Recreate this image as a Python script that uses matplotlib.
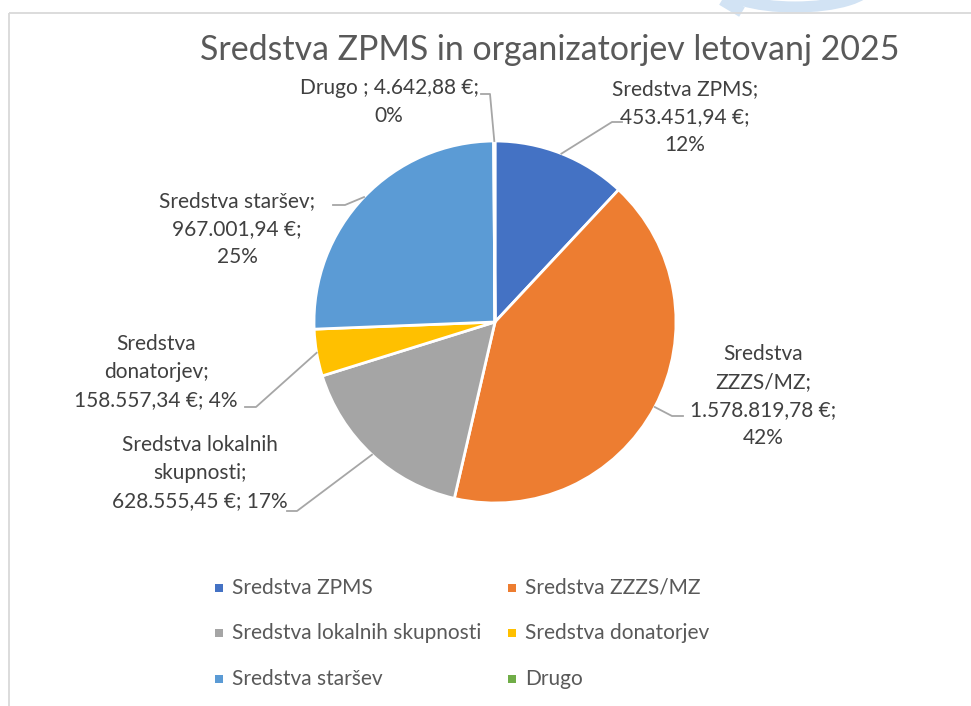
import matplotlib

matplotlib.use("Agg")
import matplotlib.pyplot as plt
import numpy as np
from matplotlib.patches import Ellipse, Rectangle

plt.rcParams["font.family"] = ["Lato", "DejaVu Sans"]

# podatki
categories = [
    "Sredstva ZPMS",
    "Sredstva ZZZS/MZ",
    "Sredstva lokalnih skupnosti",
    "Sredstva donatorjev",
    "Sredstva staršev",
    "Drugo",
]
values = [453451.94, 1578819.78, 628555.45, 158557.34, 967001.94, 4642.88]
colors = ["#4472C4", "#ED7D31", "#A5A5A5", "#FFC000", "#5B9BD5", "#70AD47"]
title = "Sredstva ZPMS in organizatorjev letovanj 2025"

# postavitev oznak (piksli, y navzdol): ime z prelomi, center besedila, koleno in konec črte
label_names = [
    "Sredstva ZPMS;\n",
    "Sredstva\nZZZS/MZ;\n",
    "Sredstva lokalnih\nskupnosti;\n",
    "Sredstva\ndonatorjev;\n",
    "Sredstva staršev;\n",
    "Drugo ; ",
]
pct_sep = ["\n", "\n", " ", " ", "\n", "\n"]
label_xy = [(685, 117), (763, 396), (200, 473), (156, 372), (237, 229), (389, 102)]
elbows = [(612, 122), (672, 416), (297, 511), (256, 407), (345, 205), (490, 94)]
ends = [(622, 122), (683, 416), (287, 511), (245, 407), (333, 205), (481, 94)]

W, H = 971, 706
CENTER = (495, 322)
RADIUS = 181


def fmt_eur(v: float) -> str:
    s = f"{v:,.2f}".replace(",", " ").replace(".", ",").replace(" ", ".")
    return f"{s} €"


def percents(vals: list[float]) -> list[int]:
    # zaokroževanje kot v Excelu: vsota mora biti 100
    raw = [v / sum(vals) * 100 for v in vals]
    out = [int(np.floor(r)) for r in raw]
    order = sorted(range(len(raw)), key=lambda i: raw[i] - out[i], reverse=True)
    for i in order[: 100 - sum(out)]:
        out[i] += 1
    return out


fig = plt.figure(figsize=(W / 100, H / 100), dpi=100)
ax = fig.add_axes([0, 0, 1, 1])

wedges, _ = ax.pie(
    values,
    colors=colors,
    center=CENTER,
    radius=RADIUS,
    startangle=-90,
    counterclock=True,
    wedgeprops={"edgecolor": "white", "linewidth": 2},
    frame=True,
)
ax.set_xlim(0, W)
ax.set_ylim(H, 0)
ax.set_aspect("auto")
ax.axis("off")

# okvir grafikona in svetlo moder ostanek logotipa zgoraj
ax.add_patch(Ellipse((795, -16), 150, 46, fill=False, lw=8, ec="#D2E3F4", zorder=0))
ax.plot([722, 742], [0, 12], color="#D2E3F4", lw=8, solid_capstyle="butt", zorder=0)
ax.add_patch(Rectangle((8.5, 12.5), W + 20, H + 20, fill=False, ec="#D9D9D9", lw=1.3, zorder=1))

pcts = percents(values)
for i, w in enumerate(wedges):
    mid = np.deg2rad((w.theta1 + w.theta2) / 2)
    x0 = CENTER[0] + RADIUS * np.cos(mid)
    y0 = CENTER[1] + RADIUS * np.sin(mid)
    (ex, ey), (tx, ty) = elbows[i], ends[i]
    ax.plot([x0, ex, tx], [y0, ey, ty], color="#A6A6A6", lw=1.3, zorder=3)
    text = f"{label_names[i]}{fmt_eur(values[i])};{pct_sep[i]}{pcts[i]}%"
    ax.text(*label_xy[i], text, ha="center", va="center", multialignment="center",
            fontsize=15, color="#404040", linespacing=1.5, zorder=4)

ax.text(550, 50, title, ha="center", va="center", fontsize=24.4, color="#595959")

# legenda po vrsticah (2 stolpca)
col_x = [219, 512]
row_y = [588, 633, 679]
for i, (name, c) in enumerate(zip(categories, colors)):
    x = col_x[i % 2]
    y = row_y[i // 2]
    ax.add_patch(Rectangle((x - 4, y - 4), 8, 8, color=c, lw=0))
    ax.text(x + 13, y, name, ha="left", va="center", fontsize=15, color="#595959")

fig.savefig("out.png", dpi=100, facecolor="white")
